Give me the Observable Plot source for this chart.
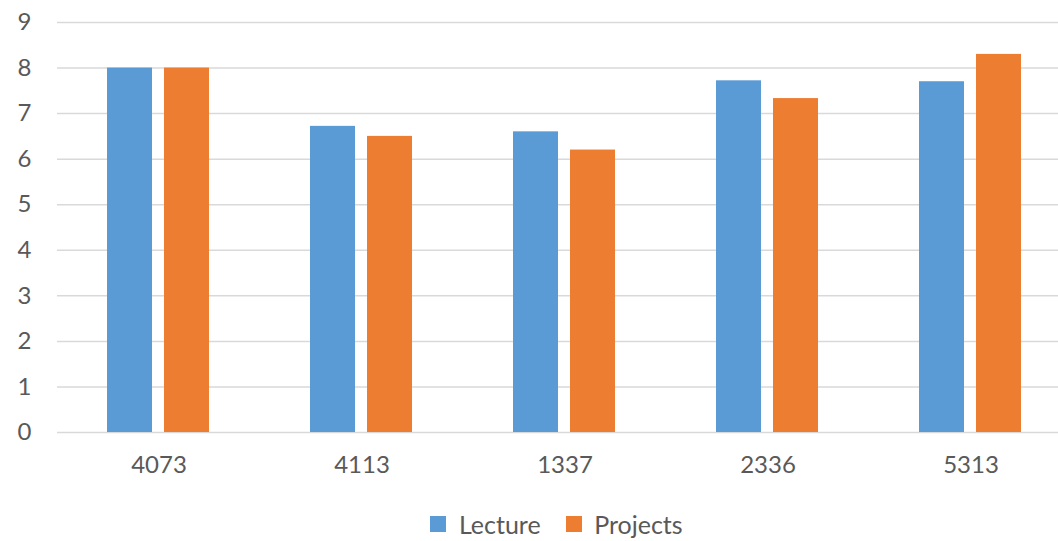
<!DOCTYPE html>
<html>
<head>
<meta charset="utf-8">
<script src="https://cdn.jsdelivr.net/npm/d3@7"></script>
<script src="https://cdn.jsdelivr.net/npm/@observablehq/plot@0.6"></script>
<style>
  html, body { margin: 0; padding: 0; background: #fff; }
  #chart { width: 1058px; height: 541px; overflow: hidden; font-family: Lato, "Open Sans", sans-serif; }
</style>
</head>
<body>
<div id="chart"></div>
<script>
const categories = ["4073", "4113", "1337", "2336", "5313"];
const series = ["Lecture", "Projects"];
const lecture = [8.0, 6.72, 6.6, 7.72, 7.7];
const projects = [8.0, 6.5, 6.2, 7.33, 8.3];
const colors = ["#5B9BD5", "#ED7D31"];
const yTicks = [0, 1, 2, 3, 4, 5, 6, 7, 8, 9];

const data = categories.flatMap((c, i) => [
  {course: c, series: series[0], value: lecture[i]},
  {course: c, series: series[1], value: projects[i]}
]);

const chart = Plot.plot({
  width: 1058,
  height: 500,
  marginLeft: 57,
  marginRight: -14,
  marginTop: 22,
  marginBottom: 68,
  style: {fontFamily: "Lato, 'Open Sans', sans-serif", fontSize: "22px", color: "#595959", background: "#fff"},
  fx: {domain: categories, padding: 0, label: null},
  x: {domain: series, paddingInner: 0.21, paddingOuter: 0.86, axis: null},
  y: {domain: [0, 9], label: null},
  color: {domain: series, range: colors},
  marks: [
    Plot.gridY(yTicks, {stroke: "#d9d9d9", strokeOpacity: 1, strokeWidth: 1.5}),
    Plot.axisY(yTicks, {tickSize: 0, tickPadding: 26, label: null, fontSize: 24, fill: "#595959"}),
    Plot.axisFx({anchor: "bottom", tickSize: 0, tickPadding: 23, label: null, fontSize: 24, fill: "#595959"}),
    Plot.barY(data, {fx: "course", x: "series", y: "value", fill: "series"})
  ]
});

const legend = Plot.legend({
  color: {domain: series, range: colors},
  swatchSize: 16,
  style: {fontFamily: "Lato, 'Open Sans', sans-serif", fontSize: "25px", color: "#595959"}
});
legend.style.justifyContent = "center";
legend.style.marginTop = "7px";
legend.style.marginLeft = "0";
legend.style.paddingLeft = "80px";

const root = document.getElementById("chart");
root.appendChild(chart);
root.appendChild(legend);
</script>
</body>
</html>
